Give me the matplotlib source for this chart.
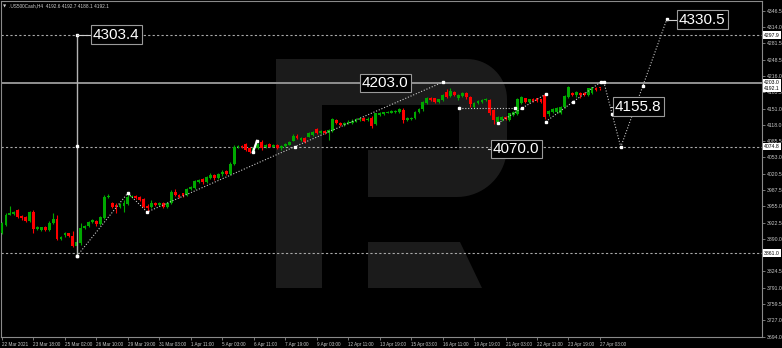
import numpy as np
import matplotlib
matplotlib.use("Agg")
import matplotlib.pyplot as plt
from matplotlib.patches import Polygon

plt.rcParams['font.family'] = ['Liberation Sans Narrow', 'Liberation Sans', 'DejaVu Sans']

# H4 candles of .US500Cash, bar index 0..152 (22 Mar 2021 .. 27 Apr 2021)
opens = [3900.8, 3917.5, 3938, 3939, 3947.6, 3936, 3933.5, 3924.9, 3942.9, 3908.8,
         3907.5, 3913.5, 3907.5, 3920.9, 3929.5, 3888.8, 3896.8, 3900.8, 3896, 3875.4,
         3880.8, 3910.8, 3915.5, 3923, 3926, 3919.5, 3930.9, 3973, 3960.9, 3957.6,
         3954.3, 3955.6, 3959.6, 3973, 3975.6, 3974.3, 3969, 3955.6, 3952.9, 3962.3,
         3957.6, 3960.9, 3954.3, 3962.3, 3984.3, 3977.6, 3981, 3977.6, 3989, 3991,
         4004, 4009, 4003, 4012, 4018, 4011, 4019, 4025, 4020, 4040,
         4074, 4076, 4080, 4071, 4064, 4072, 4084.5, 4074, 4080, 4074.5,
         4078, 4072, 4075, 4078, 4086.5, 4096.6, 4088, 4091.2, 4094.6, 4098,
         4109, 4101, 4106, 4101, 4106.6, 4128, 4122.6, 4118, 4121.3, 4122.6,
         4124.6, 4128, 4131.3, 4128, 4131.3, 4120, 4138, 4140, 4142.6, 4142.6,
         4144, 4144.7, 4148, 4128, 4129.3, 4131.3, 4144.7, 4149.3, 4162.7, 4172.7,
         4171.4, 4164.7, 4168, 4184.8, 4176, 4184.8, 4171.4, 4176, 4181.4, 4174,
         4155, 4162, 4165, 4168, 4168, 4148, 4124, 4128, 4134, 4128,
         4137, 4139, 4162, 4171.4, 4164.7, 4170, 4171.4, 4169.4, 4178, 4139,
         4144, 4144.6, 4142.6, 4154.7, 4174.7, 4181.4, 4177.4, 4182.7, 4182.7, 4178,
         4183, 4192, 4192.6]
highs = [3924, 3941, 3955.6, 3945, 3949, 3937, 3935, 3946, 3947.6, 3916,
         3914, 3915, 3926, 3940.9, 3937.5, 3895, 3904, 3902, 3905.5, 3887.5,
         3920.9, 3918, 3926, 3929, 3928, 3936, 3977.6, 3980, 3963, 3960.9,
         3962, 3967.6, 3982, 3978, 3977, 3976, 3971, 3959.6, 3967.6, 3964,
         3963, 3963, 3964, 3987, 3990, 3979, 3982, 3991, 3995, 4008,
         4010, 4011, 4016, 4022, 4020, 4021, 4027, 4028, 4043, 4077,
         4078, 4078, 4082, 4073, 4074, 4082, 4088, 4079, 4082, 4079,
         4080, 4078, 4082, 4086, 4100, 4100, 4093, 4093, 4103, 4106,
         4111, 4108, 4108, 4110, 4131, 4130, 4124, 4123, 4127, 4129,
         4131, 4133, 4133, 4133, 4135, 4143, 4145, 4145, 4147, 4149,
         4148, 4152.7, 4153, 4134, 4133, 4147, 4152, 4167, 4175, 4175,
         4173, 4171, 4180, 4189.4, 4191.4, 4187, 4180, 4184, 4184, 4177,
         4164, 4168, 4171, 4173, 4171, 4150, 4136, 4135, 4136, 4143,
         4147, 4172, 4177, 4173, 4171, 4172, 4173, 4171, 4181.4, 4149,
         4152, 4154, 4157, 4178, 4196, 4184, 4186, 4184, 4185, 4193,
         4195, 4194, 4192.7]
lows = [3899, 3915, 3937, 3937, 3932, 3928, 3924, 3923, 3900.8, 3907,
        3905, 3906, 3906, 3919.5, 3887.5, 3887, 3894, 3894, 3874.1, 3855.4,
        3877.4, 3909, 3914, 3921, 3916, 3917, 3928.9, 3971, 3952, 3940.9,
        3952, 3944, 3958, 3971, 3970, 3966, 3951, 3943, 3951, 3956,
        3956, 3952, 3952, 3960, 3976, 3971, 3974, 3976, 3987, 3989,
        4002, 4000, 4001, 4010, 4008, 4009, 4016, 4017, 4018, 4038,
        4072, 4072, 4066, 4062, 4062, 4070, 4068, 4072, 4073, 4073,
        4069, 4068, 4073, 4077, 4085, 4089, 4086, 4082, 4093, 4096,
        4099, 4100, 4099, 4088, 4104, 4119, 4115, 4116, 4119, 4120,
        4123, 4126, 4125, 4126, 4111, 4118, 4136, 4138, 4141, 4141,
        4142, 4143, 4121.3, 4126, 4127, 4130, 4143, 4147, 4161, 4166,
        4163, 4163, 4166, 4173, 4174, 4176, 4169, 4174, 4171, 4155,
        4153, 4160, 4163, 4166, 4137, 4119, 4121, 4126, 4127, 4126,
        4135, 4137, 4160, 4163, 4163, 4165, 4164, 4163, 4130, 4136,
        4142, 4143, 4140, 4153, 4172, 4176, 4175, 4173, 4176, 4176,
        4181, 4187, 4188.1]
closes = [3920.9, 3937.6, 3941, 3943, 3934.2, 3932, 3925.5, 3943.6, 3908.8, 3914.2,
          3912.8, 3908, 3922, 3930, 3888.8, 3893.5, 3900.8, 3895.5, 3875.4, 3884,
          3910.8, 3916, 3924, 3926.7, 3919.5, 3934.2, 3974.3, 3976.3, 3954.3, 3952.9,
          3959.6, 3960.9, 3973, 3975.6, 3972.3, 3967.6, 3954.3, 3950.9, 3962.3, 3957.6,
          3960.9, 3954.3, 3962.3, 3984.3, 3977.6, 3973, 3975.6, 3989, 3993, 4005.7,
          4008, 4003, 4013, 4018, 4011, 4019, 4024, 4019, 4040, 4074,
          4076, 4074, 4068, 4064, 4072, 4080, 4071, 4077, 4074.5, 4077,
          4071, 4076, 4080, 4084.5, 4096.6, 4091.2, 4091.2, 4084.5, 4101.2, 4104,
          4101, 4106, 4101, 4108, 4129.3, 4121.3, 4118, 4121.3, 4124.6, 4126.6,
          4129.3, 4131.3, 4126.6, 4130.6, 4116, 4141.3, 4142.6, 4143.3, 4144.7, 4146.7,
          4146.7, 4149.3, 4128, 4131.3, 4131.3, 4144.7, 4149.3, 4164.7, 4172.7, 4168,
          4164.7, 4169.4, 4178, 4174.7, 4186.1, 4178, 4178, 4181.4, 4173.4, 4160,
          4162, 4166, 4169, 4171, 4141, 4128, 4134, 4133, 4129, 4141,
          4145, 4170, 4174.7, 4164.7, 4169.4, 4167, 4166.7, 4164.7, 4134.6, 4146.6,
          4149.3, 4151.3, 4154.7, 4176, 4193.4, 4177.4, 4184, 4178.7, 4178, 4191.4,
          4193.4, 4188.5, 4192.1]

tick_idx = list(range(0, 153, 8))
tick_labels = ["22 Mar 2021", "23 Mar 18:00", "25 Mar 02:00", "26 Mar 10:00", "29 Mar 19:00",
               "31 Mar 03:00", "1 Apr 11:00", "5 Apr 03:00", "6 Apr 11:00", "7 Apr 19:00",
               "9 Apr 03:00", "12 Apr 11:00", "13 Apr 19:00", "15 Apr 03:00", "16 Apr 11:00",
               "19 Apr 19:00", "21 Apr 03:00", "22 Apr 11:00", "23 Apr 19:00", "27 Apr 03:00"]
price_ticks = [4346.5, 4314.0, 4281.5, 4248.5, 4216.0, 4183.5, 4151.0, 4118.0, 4085.5,
               4053.0, 4020.5, 3987.5, 3955.0, 3922.5, 3890.0, 3824.5, 3791.0,
               3759.5, 3727.0, 3694.0]

# levels and drawn objects
dash_levels = [4297.9, 4074.8, 3861.0]
solid_level = 4203.0
marked_prices = [4297.9, 4203.0, 4192.1, 4074.8, 3861.0]

vert_x = 19.06
vert_y = [4298.0, 4075.5, 3855.3]
wave1_x = [19.06, 32.0, 36.9, 74.5, 112.1]
wave1_y = [3855.3, 3981.6, 3943.5, 4074.8, 4204.0]
wave2_x = [126.1, 132.1, 138.3]
wave2_y = [4121.3, 4151.4, 4180.1]
wave3_x = [138.2, 145.2, 152.2]
wave3_y = [4124.5, 4164.6, 4204.0]
fc_x = [153.0, 155.1, 157.3, 162.9, 169.0]
fc_y = [4204.0, 4140.0, 4074.0, 4196.0, 4330.0]
flat_x = [116.2, 130.4]
flat_y = [4152.0, 4152.0]
white_x = [63.8, 64.8]
white_y = [4063.8, 4085.9]

lab_txt = ["4303.4", "4203.0", "4070.0", "4155.8", "4330.5"]
lab_x = [23.1, 91.5, 124.8, 155.8, 172.1]
lab_y = [4299.3, 4202.1, 4069.8, 4155.0, 4329.4]
anchor_x = [19.06, 91.2, 123.6, 154.7, 169.0]

W, H = 782, 348
fig = plt.figure(figsize=(W / 100, H / 100), dpi=100, facecolor='black')

# watermark in pixel coordinates
bg = fig.add_axes([0, 0, 1, 1], zorder=0)
bg.set_xlim(0, W)
bg.set_ylim(H, 0)
bg.axis('off')
bg.set_facecolor('black')
r1, r2 = 40, 50
t = np.linspace(np.pi / 2, 0, 20)
arc1 = np.column_stack([507 - r1 + r1 * np.cos(t), 59 + r1 - r1 * np.sin(t)])
t2 = np.linspace(0, np.pi / 2, 20)
arc2 = np.column_stack([507 - r2 + r2 * np.cos(t2), 197 - r2 + r2 * np.sin(t2)])
outline = np.vstack([[[276, 59]], arc1, arc2,
                     [[368, 197], [368, 150], [459, 150], [459, 105], [322, 105],
                      [322, 288], [276, 288]]])
logo_c = '#1b1b1b'
bg.add_patch(Polygon(outline, closed=True, fc=logo_c, ec='none'))
bg.add_patch(Polygon([[368, 242], [460, 242], [482, 288], [368, 288]], closed=True,
                     fc=logo_c, ec='none'))

ax = fig.add_axes([1 / W, (H - 337) / H, 761 / W, 336 / H], zorder=1)
ax.set_facecolor('none')
ax.set_xlim(-0.254, 193.2)
ax.set_ylim(3693.0, 4366.5)

idx = np.arange(len(opens))
o = np.array(opens)
c = np.array(closes)
col = np.where(c >= o, '#00a800', '#ff0000')
ax.vlines(idx, lows, highs, colors=col, lw=0.8, zorder=3)
body = np.maximum(np.abs(c - o), 1.2)
ax.bar(idx, body, bottom=np.minimum(o, c), width=0.72, color=col, lw=0, zorder=3)

for lv in dash_levels:
    ax.axhline(lv, color='#a8a8a8', lw=0.8, ls=(0, (2, 2)), zorder=2)
ax.axhline(solid_level, color='#909090', lw=1.4, zorder=2)

dot = dict(color='#c8c8c8', lw=0.8, ls=(0, (1, 1.6)), zorder=4)
mk = dict(marker='s', ms=1.5, color='white', ls='none', zorder=5)
ax.plot([vert_x, vert_x], [vert_y[0], vert_y[-1]], color='#b4b4b4', lw=1.0, zorder=4)
ax.plot([vert_x] * 3, vert_y, **mk)
for xs, ys in [(wave1_x, wave1_y), (wave2_x, wave2_y), (wave3_x, wave3_y),
               (fc_x, fc_y), (flat_x, flat_y)]:
    ax.plot(xs, ys, **dot)
    ax.plot(xs, ys, **mk)
ax.plot(white_x, white_y, color='white', lw=1.6, marker='s', ms=2.0, zorder=5)

for s, x, y, a in zip(lab_txt, lab_x, lab_y, anchor_x):
    ax.plot([a, x - 0.6], [y, y], color='#d0d0d0', lw=0.8, zorder=5)
    ax.text(x, y, s, color='white', fontsize=11, ha='left', va='center', zorder=6,
            bbox=dict(boxstyle='square,pad=0.14', fc='black', ec='#9a9a9a', lw=0.8))

# axes styling
for sp in ax.spines.values():
    sp.set_color('#8a8a8a')
    sp.set_linewidth(0.8)
ax.yaxis.tick_right()
ax.set_yticks(price_ticks)
ax.set_yticklabels([f"{v:.1f}" for v in price_ticks])
ax.set_xticks(tick_idx)
ax.set_xticklabels(tick_labels)
ax.tick_params(axis='x', colors='#8a8a8a', labelcolor='#c8c8c8', labelsize=3.3,
               length=2.5, width=0.6, pad=1.0)
ax.tick_params(axis='y', colors='#8a8a8a', labelcolor='#c8c8c8', labelsize=3.7,
               length=2.5, width=0.6, pad=1.0)
for lb in ax.get_xticklabels():
    lb.set_horizontalalignment('left')

ytr = ax.get_yaxis_transform()
for p in marked_prices:
    ax.text(1.003, p, f"{p:.1f}", transform=ytr, fontsize=3.7, color='black',
            ha='left', va='center', zorder=7, clip_on=False,
            bbox=dict(boxstyle='square,pad=0.25', fc='white', ec='none'))

fig.text(3 / W, 1 - 6 / H, "\u25bc", color='#d0d0d0', fontsize=3.0, va='center',
         family=['DejaVu Sans'])
fig.text(9 / W, 1 - 6 / H, ".US500Cash,H4  4192.6 4192.7 4188.1 4192.1",
         color='#d0d0d0', fontsize=3.4, va='center')

fig.savefig("out.png", dpi=100, facecolor='black')
